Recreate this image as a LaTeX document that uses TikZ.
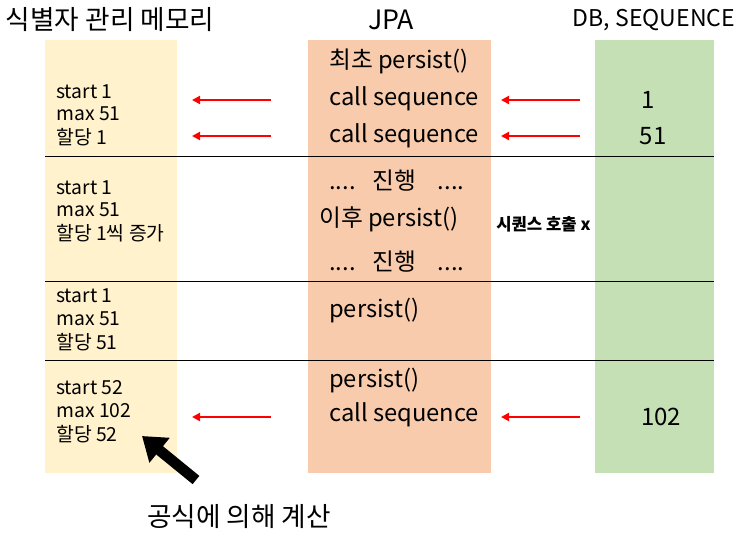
\documentclass[tikz,border=0pt]{standalone}
\usepackage{fontspec}
\setmainfont{Noto Sans CJK KR}
\usetikzlibrary{arrows.meta}
\definecolor{memy}{HTML}{FFF2CC}
\definecolor{jpao}{HTML}{F8CBAD}
\definecolor{dbg}{HTML}{C5E0B4}
\definecolor{redarrow}{HTML}{FF0000}
\tikzset{
  head/.style={font=\fontsize{20}{24}\selectfont, inner sep=0pt},
  memtxt/.style={font=\fontsize{14.5}{17}\selectfont, anchor=west, inner sep=0pt},
  jpatxt/.style={font=\fontsize{17.8}{21}\selectfont, anchor=west, inner sep=0pt},
  dbtxt/.style={font=\fontsize{18}{21}\selectfont, inner sep=0pt},
  sep/.style={line width=0.75pt, black},
  redarr/.style={redarrow, line width=1.6pt, -{Triangle[length=6pt,width=6pt]}},
}
\begin{document}
\begin{tikzpicture}[x=0.75pt,y=-0.75pt]
\useasboundingbox (0,0) rectangle (742,535);
% columns
\fill[memy] (45,40) rectangle (177,473);
\fill[jpao] (308,40) rectangle (491,473);
\fill[dbg] (595,40) rectangle (714,473);
% separators
\draw[sep] (45,156) -- (714,156);
\draw[sep] (45,281) -- (714,281);
\draw[sep] (45,360) -- (714,360);
% headers
\node[head] (h1) at (110,20) {식별자 관리 메모리};
\node[head] (h2) at (391,20) {JPA};
\node[head, font=\fontsize{17.3}{21}\selectfont] (h3) at (654,20) {DB, SEQUENCE};
% memory texts
\node[memtxt] (m11) at (56,92) {start 1};
\node[memtxt] (m12) at (56,114) {max 51};
\node[memtxt] (m13) at (56,137) {할당 1};
\node[memtxt] (m21) at (56,188) {start 1};
\node[memtxt] (m22) at (56,210) {max 51};
\node[memtxt] (m23) at (56,233) {할당 1씩 증가};
\node[memtxt] (m31) at (56,296) {start 1};
\node[memtxt] (m32) at (56,319) {max 51};
\node[memtxt] (m33) at (56,342) {할당 51};
\node[memtxt] (m41) at (56,388) {start 52};
\node[memtxt] (m42) at (56,411) {max 102};
\node[memtxt] (m43) at (56,434) {할당 52};
% JPA texts
\node[jpatxt] (j1) at (329,61) {최초 persist()};
\node[jpatxt] (j2) at (329,99) {call sequence};
\node[jpatxt] (j3) at (329,136) {call sequence};
\node[jpatxt] (j4) at (329,181) {....\hspace{13pt}진행\hspace{16pt}....};
\node[jpatxt] (j5) at (319,219) {이후 persist()};
\node[jpatxt] (j6) at (329,262) {....\hspace{13pt}진행\hspace{16pt}....};
\node[jpatxt] (j7) at (329,311) {persist()};
\node[jpatxt] (j8) at (329,381) {persist()};
\node[jpatxt] (j9) at (329,415) {call sequence};
% DB texts
\node[dbtxt] (d1) at (648,100) {1};
\node[dbtxt] (d2) at (653,136) {51};
\node[dbtxt] (d3) at (661,417) {102};
% note
\node[font=\fontsize{12.5}{14}\selectfont\bfseries, anchor=west, inner sep=0pt] (nox) at (496,224) {시퀀스 호출 x};
% red arrows
\coordinate (a1s) at (271,100); \coordinate (a1e) at (192,100);
\coordinate (a2s) at (271,136); \coordinate (a2e) at (192,136);
\coordinate (a3s) at (271,417); \coordinate (a3e) at (192,417);
\coordinate (b1s) at (580,100); \coordinate (b1e) at (501,100);
\coordinate (b2s) at (580,136); \coordinate (b2e) at (501,136);
\coordinate (b3s) at (580,417); \coordinate (b3e) at (501,417);
\draw[redarr] (a1s) -- (a1e);
\draw[redarr] (a2s) -- (a2e);
\draw[redarr] (a3s) -- (a3e);
\draw[redarr] (b1s) -- (b1e);
\draw[redarr] (b2s) -- (b2e);
\draw[redarr] (b3s) -- (b3e);
% formula note and black arrow
\node[font=\fontsize{20}{24}\selectfont, inner sep=0pt] (formula) at (239,517) {공식에 의해 계산};
\coordinate (ks) at (196,480);
\coordinate (ke) at (142,436);
\draw[line width=8pt, -{Triangle[length=17pt,width=23pt]}] (ks) -- (ke);
\end{tikzpicture}
\end{document}
